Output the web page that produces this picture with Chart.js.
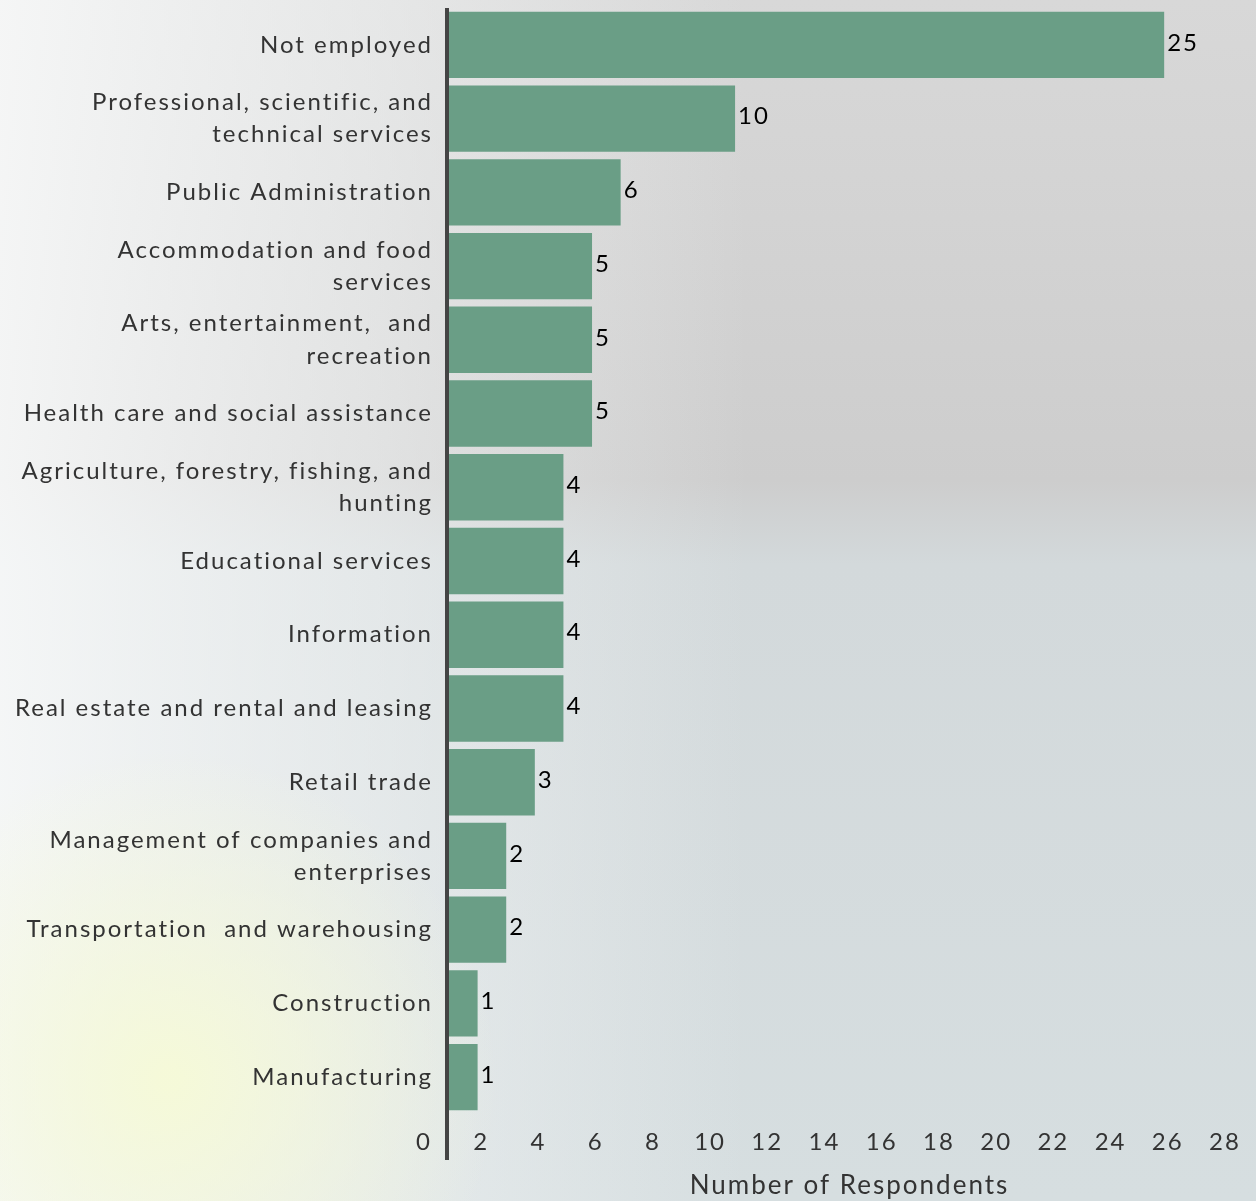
<!DOCTYPE html>
<html lang="en">
<head>
    <meta charset="UTF-8">
    <title>Respondents by Industry</title>
    <script src="https://cdn.jsdelivr.net/npm/chart.js"></script>
    <style>
        html, body { margin: 0; padding: 0; background: #dcdfe0; }
        #wrap { width: 1256px; height: 1201px; }
    </style>
</head>
<body>
    <div id="wrap"><canvas id="industryChart"></canvas></div>

    <script>
        // Industry categories (top to bottom)
        const categories = [
            'Not employed',
            ['Professional, scientific, and', 'technical services'],
            'Public Administration',
            ['Accommodation and food', 'services'],
            ['Arts, entertainment,  and', 'recreation'],
            'Health care and social assistance',
            ['Agriculture, forestry, fishing, and', 'hunting'],
            'Educational services',
            'Information',
            'Real estate and rental and leasing',
            'Retail trade',
            ['Management of companies and', 'enterprises'],
            'Transportation  and warehousing',
            'Construction',
            'Manufacturing'
        ];
        const respondents = [25, 10, 6, 5, 5, 5, 4, 4, 4, 4, 3, 2, 2, 1, 1];
        const axisMax = 28;
        const axisStep = 2;

        const labelFont = 'Lato, "Open Sans", sans-serif';

        // wide letter spacing like the original slide text
        const spacing = {
            id: 'spacing',
            beforeInit(chart) { chart.ctx.letterSpacing = '2px'; },
            beforeUpdate(chart) { chart.ctx.letterSpacing = '2px'; },
            beforeDraw(chart) { chart.ctx.letterSpacing = '2px'; }
        };

        // faded photo-like background
        const backdrop = {
            id: 'backdrop',
            beforeDraw(chart) {
                const { ctx, width, height } = chart;
                ctx.save();
                let g = ctx.createLinearGradient(0, 0, 0, height);
                g.addColorStop(0, '#d8d8d8');
                g.addColorStop(0.4, '#cdcdcd');
                g.addColorStop(0.47, '#d3d9db');
                g.addColorStop(1, '#d6dee0');
                ctx.fillStyle = g;
                ctx.fillRect(0, 0, width, height);

                g = ctx.createLinearGradient(0, 0, 750, 0);
                g.addColorStop(0, 'rgba(250,251,251,0.85)');
                g.addColorStop(0.5, 'rgba(245,247,247,0.5)');
                g.addColorStop(1, 'rgba(245,247,247,0)');
                ctx.fillStyle = g;
                ctx.fillRect(0, 0, width, height);

                g = ctx.createRadialGradient(170, 1080, 10, 170, 1080, 330);
                g.addColorStop(0, 'rgba(246,250,214,0.9)');
                g.addColorStop(1, 'rgba(246,250,214,0)');
                ctx.fillStyle = g;
                ctx.fillRect(0, 0, width, height);
                ctx.restore();
            }
        };

        // vertical axis line, running a little below the plot
        const axisLine = {
            id: 'axisLine',
            afterDatasetsDraw(chart) {
                const { ctx, chartArea, scales } = chart;
                const x0 = scales.x.getPixelForValue(0) - 2;
                ctx.save();
                ctx.strokeStyle = '#444444';
                ctx.lineWidth = 4;
                ctx.beginPath();
                ctx.moveTo(x0, chartArea.top);
                ctx.lineTo(x0, chartArea.bottom + 46);
                ctx.stroke();
                ctx.restore();
            }
        };

        // value labels at the end of each bar
        const valueLabels = {
            id: 'valueLabels',
            afterDatasetsDraw(chart) {
                const { ctx } = chart;
                const meta = chart.getDatasetMeta(0);
                ctx.save();
                ctx.font = '24px ' + labelFont;
                ctx.fillStyle = '#000';
                ctx.textAlign = 'left';
                ctx.textBaseline = 'middle';
                meta.data.forEach((bar, i) => {
                    ctx.fillText(String(respondents[i]), bar.x + 3, bar.y - 2);
                });
                ctx.restore();
            }
        };

        new Chart(document.getElementById('industryChart'), {
            type: 'bar',
            data: {
                labels: categories,
                datasets: [{
                    label: 'Number of Respondents',
                    data: respondents,
                    backgroundColor: '#6a9e86',
                    borderWidth: 0,
                    categoryPercentage: 1,
                    barPercentage: 0.9
                }]
            },
            options: {
                indexAxis: 'y',
                responsive: true,
                maintainAspectRatio: false,
                animation: false,
                layout: { padding: { top: 8, right: 6, left: 0, bottom: 0 } },
                plugins: {
                    legend: { display: false },
                    tooltip: { enabled: false }
                },
                scales: {
                    y: {
                        grid: { display: false },
                        border: { display: false },
                        ticks: {
                            color: '#333',
                            padding: 8,
                            font: { family: labelFont, size: 24, lineHeight: 1.34 }
                        },
                        afterFit(scale) {
                            scale.width = 449;
                            scale.paddingTop = 0;
                            scale.paddingBottom = 0;
                        }
                    },
                    x: {
                        min: 0,
                        max: axisMax,
                        grid: { display: false },
                        border: { display: false },
                        ticks: {
                            stepSize: axisStep,
                            color: '#333',
                            padding: 6,
                            labelOffset: -25,
                            maxRotation: 0,
                            autoSkip: false,
                            font: { family: labelFont, size: 24 }
                        },
                        title: {
                            display: true,
                            text: 'Number of Respondents',
                            color: '#333',
                            padding: { top: 4, bottom: 0 },
                            font: { family: labelFont, size: 26 }
                        },
                        afterFit(scale) {
                            scale.height = 87;
                            scale.paddingLeft = 0;
                            scale.paddingRight = 0;
                        }
                    }
                }
            },
            plugins: [spacing, backdrop, axisLine, valueLabels]
        });
    </script>
</body>
</html>
